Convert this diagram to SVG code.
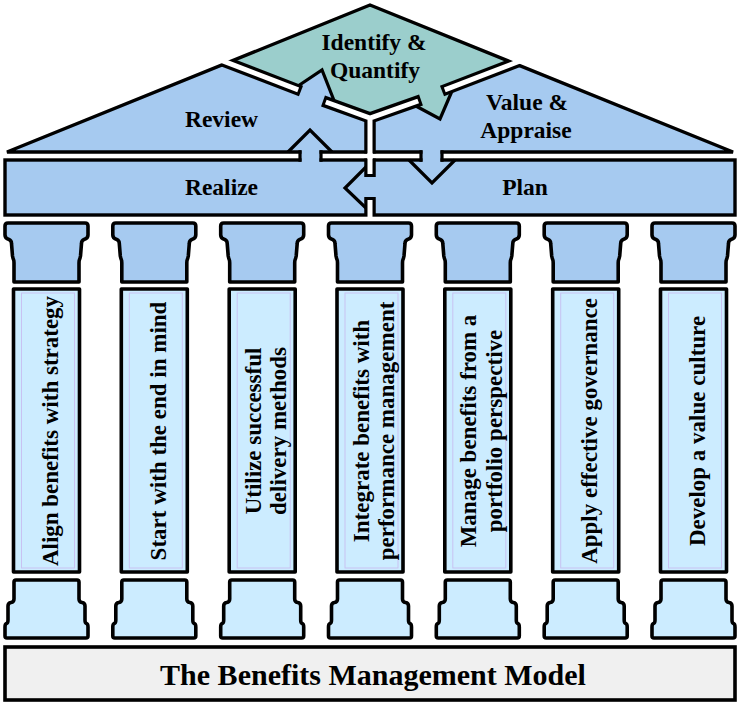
<svg xmlns="http://www.w3.org/2000/svg" width="740" height="708" viewBox="0 0 740 708">
<style>
.t{font-family:"Liberation Serif","Times New Roman",serif;font-weight:bold;fill:#000;text-anchor:middle}
.lab{font-size:23.5px}
.ct{font-size:23px}
.title{font-size:30px}
.blue{fill:#A6CAF0}
.teal{fill:#9BCECC}
.ol{fill:none;stroke:#000;stroke-width:3.4;stroke-linejoin:miter}
.tab{fill:none;stroke:#000;stroke-width:3.2;stroke-linejoin:miter}
.barb{fill:none;stroke:#000;stroke-width:11.5;stroke-linejoin:miter}
.barw{fill:none;stroke:#fff;stroke-width:5;stroke-linejoin:miter}
.capc{fill:#A6CAF0;stroke:#000;stroke-width:3.6;stroke-linejoin:round}
.colc{fill:#CCECFF;stroke:#000;stroke-width:3.6;stroke-linejoin:round}
.inner{fill:none;stroke:#c8c2f2;stroke-width:1}
</style>
<defs>
<clipPath id="roofclip"><polygon points="7,152 370,5 733,152"/></clipPath>
<path id="capital" d="M-41.5,226 Q-41.5,223 -38.5,223 L38.5,223 Q41.5,223 41.5,226 L41.5,235 Q41.5,238.5 37.5,239.5 Q35,240.5 35,243.5 L34,256 Q33.5,258.5 33,259.5 Q32.5,260.5 32.5,263 L32.5,282 L-32.5,282 L-32.5,263 Q-32.5,260.5 -33,259.5 Q-33.5,258.5 -34,256 L-35,243.5 Q-35,240.5 -37.5,239.5 Q-41.5,238.5 -41.5,235 Z"/>
<rect id="shaft" x="-33" y="289" width="66" height="283"/>
<rect id="innerline" x="-25" y="293" width="53" height="275"/>
<path id="basepiece" d="M-32.5,582 Q-32.5,580 -30.5,580 L30.5,580 Q32.5,580 32.5,582 L32.5,599 Q32.5,602 35.5,602.5 Q38.5,603 38.5,606 L38.5,620 Q38.5,623 40,623.5 Q41.5,624 41.5,627 L41.5,636 Q41.5,638 39.5,638 L-39.5,638 Q-41.5,638 -41.5,636 L-41.5,627 Q-41.5,624 -40,623.5 Q-38.5,623 -38.5,620 L-38.5,606 Q-38.5,603 -35.5,602.5 Q-32.5,602 -32.5,599 Z"/>
</defs>

<g id="review">
<polygon class="blue" points="7,152 227.4,62.7 295,88.4 322,70 335,103 370,119.5 370,152"/>
<text class="t lab" x="221.5" y="127">Review</text>
</g>
<g id="value-appraise">
<polygon class="blue" points="370,118 421,100 414,104 440,119 452,91 514.1,63.3 733,152 442,152 442,160 455,160 432,183 409,160 421,160 421,152 370,152"/>
<text class="t lab" x="527" y="110">Value &amp;</text>
<text class="t lab" x="526" y="138">Appraise</text>
</g>
<g id="identify-quantify">
<polygon class="teal" points="227.4,62.7 370,5 514.1,63.3 442,91 452,91 440,119 414,104 421,100 370,118 323,101 335,103 322,70 295,88.4"/>
<text class="t lab" x="374" y="50">Identify &amp;</text>
<text class="t lab" x="375" y="78">Quantify</text>
</g>
<g id="realize">
<polygon class="blue" points="5,160 300,160 300,152 288,152 310,130 332,152 321,152 321,160 370,160 370,167 345,188 370,208 370,215 5,215"/>
<text class="t lab" x="221.5" y="195">Realize</text>
</g>
<g id="plan">
<polygon class="blue" points="370,160 409,160 432,183 455,160 735,160 735,215 370,215 370,208 345,188 370,167"/>
<text class="t lab" x="525" y="195">Plan</text>
</g>

<g id="joints">
<polygon class="ol" points="7,152 370,5 733,152"/>
<rect class="ol" x="5" y="160" width="730" height="55"/>
<polyline class="tab" points="295,88 322,70 335,103"/>
<polyline class="tab" points="414,105 440,119 452,91"/>
<polyline class="tab" points="366,167 345,188 366,208"/>
<g clip-path="url(#roofclip)">
<line class="barb" x1="216.2" y1="58.4" x2="301" y2="91"/>
<line class="barb" x1="442" y1="91" x2="525.3" y2="59"/>
</g>
<path class="barb" d="M323,101 L370,118 L421,100 M370,118 L370,153.5"/>
<path class="barb" d="M370,158.5 L370,177 M370,197 L370,215"/>
<line class="barw" x1="216.2" y1="58.4" x2="298.2" y2="89.9"/>
<line class="barw" x1="444.8" y1="89.9" x2="525.3" y2="59"/>
<path class="barw" d="M325.8,102 L370,118 L418.2,101 M370,118 L370,159"/>
<path class="barw" d="M370,153 L370,174 M370,200 L370,219"/>
<rect class="blue" x="301.5" y="150" width="18" height="12"/>
<rect class="blue" x="422.5" y="150" width="18" height="12"/>
<path fill="none" stroke="#000" stroke-width="3.2" d="M300,150.3 V161.7 M321,150.3 V161.7 M421,150.3 V161.7 M442,150.3 V161.7"/>
<polyline class="tab" points="288,152 310,130 332,152"/>
<polyline class="tab" points="409,160 432,183 455,160"/>
</g>

<g id="col1">
<use href="#capital" x="46.5" class="capc"/><use href="#shaft" x="46.5" class="colc"/><use href="#innerline" x="46.5" class="inner"/><use href="#basepiece" x="46.5" class="colc"/>
<text class="t ct" transform="translate(57.5,431) rotate(-90)">Align benefits with strategy</text>
</g>
<g id="col2">
<use href="#capital" x="154.3" class="capc"/><use href="#shaft" x="154.3" class="colc"/><use href="#innerline" x="154.3" class="inner"/><use href="#basepiece" x="154.3" class="colc"/>
<text class="t ct" transform="translate(165.5,431) rotate(-90)">Start with the end in mind</text>
</g>
<g id="col3">
<use href="#capital" x="262.2" class="capc"/><use href="#shaft" x="262.2" class="colc"/><use href="#innerline" x="262.2" class="inner"/><use href="#basepiece" x="262.2" class="colc"/>
<text class="t ct" transform="translate(260.7,431) rotate(-90)">Utilize successful</text>
<text class="t ct" transform="translate(286.2,431) rotate(-90)">delivery methods</text>
</g>
<g id="col4">
<use href="#capital" x="370" class="capc"/><use href="#shaft" x="370" class="colc"/><use href="#innerline" x="370" class="inner"/><use href="#basepiece" x="370" class="colc"/>
<text class="t ct" transform="translate(368.5,431) rotate(-90)">Integrate benefits with</text>
<text class="t ct" transform="translate(394,431) rotate(-90)">performance management</text>
</g>
<g id="col5">
<use href="#capital" x="477.8" class="capc"/><use href="#shaft" x="477.8" class="colc"/><use href="#innerline" x="477.8" class="inner"/><use href="#basepiece" x="477.8" class="colc"/>
<text class="t ct" transform="translate(476.3,431) rotate(-90)">Manage benefits from a</text>
<text class="t ct" transform="translate(501.8,431) rotate(-90)">portfolio perspective</text>
</g>
<g id="col6">
<use href="#capital" x="585.7" class="capc"/><use href="#shaft" x="585.7" class="colc"/><use href="#innerline" x="585.7" class="inner"/><use href="#basepiece" x="585.7" class="colc"/>
<text class="t ct" transform="translate(597,431) rotate(-90)">Apply effective governance</text>
</g>
<g id="col7">
<use href="#capital" x="693.5" class="capc"/><use href="#shaft" x="693.5" class="colc"/><use href="#innerline" x="693.5" class="inner"/><use href="#basepiece" x="693.5" class="colc"/>
<text class="t ct" transform="translate(705,431) rotate(-90)">Develop a value culture</text>
</g>

<g id="base">
<rect x="5" y="647" width="730" height="53" fill="#F0F0F0" stroke="#000" stroke-width="3.6"/>
<text class="t title" x="373" y="685">The Benefits Management Model</text>
</g>
</svg>
